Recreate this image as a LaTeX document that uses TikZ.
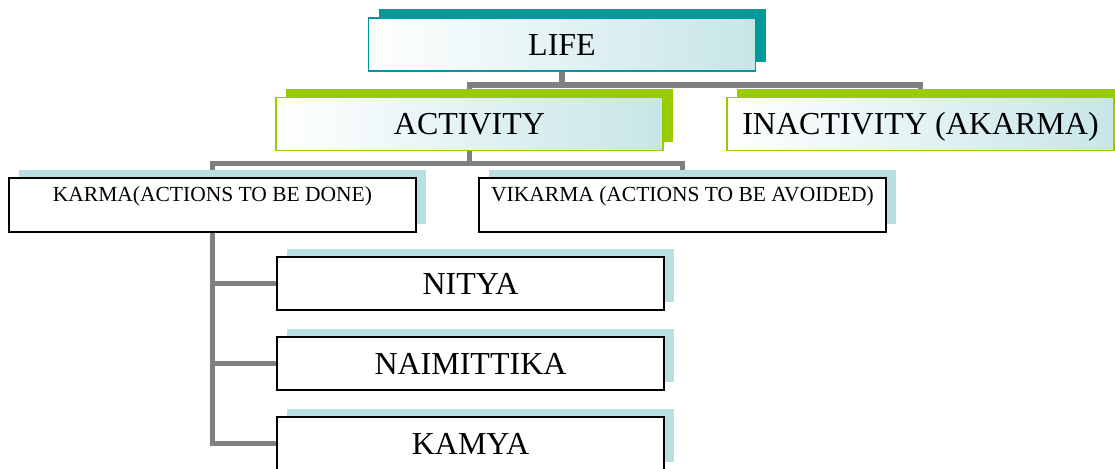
\documentclass[tikz,border=0pt]{standalone}
\usepackage{fontspec}
\setmainfont{Liberation Serif}
\usetikzlibrary{shadows,backgrounds}
\definecolor{lifeteal}{HTML}{009999}
\definecolor{actgreen}{HTML}{99CC00}
\definecolor{paleblue}{HTML}{B9DFE2}
\definecolor{linkgray}{HTML}{808080}

\begin{document}
\begin{tikzpicture}[x=0.5pt, y=-0.5pt,
    topbox/.style={draw=#1, line width=0.9pt, left color=white, right color=paleblue!80!white,
      general shadow={fill=#1, shadow xshift=5pt, shadow yshift=4.5pt},
      minimum width=193.5pt, minimum height=26.5pt, inner sep=0pt,
      text height=10.6pt, text depth=0pt,
      font=\fontsize{16}{19}\selectfont},
    subbox/.style={draw=black, line width=1pt, fill=white,
      general shadow={fill=paleblue, shadow xshift=5pt, shadow yshift=4pt},
      minimum width=193.5pt, minimum height=26.5pt, inner sep=0pt,
      text height=10.6pt, text depth=0pt,
      font=\fontsize{16}{19}\selectfont},
    kindbox/.style={subbox, minimum width=203.5pt, minimum height=0pt,
      text height=12pt, text depth=15pt, anchor=north,
      font=\fontsize{10.75}{13}\selectfont},
    link/.style={draw=linkgray, line width=2.7pt}]
    \useasboundingbox (0,0) rectangle (1115,468);
    % boxes
    \node[topbox=lifeteal] (life) at (562,44.5) {LIFE};
    \node[topbox=actgreen] (activity) at (469.5,124) {ACTIVITY};
    \node[topbox=actgreen] (inactivity) at (920.5,124) {INACTIVITY (AKARMA)};
    \node[kindbox] (karma) at (212.5,176.5) {KARMA(ACTIONS TO BE DONE)};
    \node[kindbox] (vikarma) at (682.5,176.5) {VIKARMA (ACTIONS TO BE AVOIDED)};
    \node[subbox] (nitya) at (470.5,283.5) {NITYA};
    \node[subbox] (naimittika) at (470.5,363.5) {NAIMITTIKA};
    \node[subbox] (kamya) at (470.5,443.5) {KAMYA};
    % connectors
    \begin{scope}[on background layer]
        \draw[link] (life.south) -- ++(0,13) -| (activity.north);
        \draw[link] (life.south) -- ++(0,13) -| (inactivity.north);
        \draw[link] (activity.south) -- ++(0,12) -| (karma.north);
        \draw[link] (activity.south) -- ++(0,12) -| (vikarma.north);
        \draw[link] (karma.south) |- (nitya.west);
        \draw[link] (karma.south) |- (naimittika.west);
        \draw[link] (karma.south) |- (kamya.west);
    \end{scope}
\end{tikzpicture}
\end{document}
